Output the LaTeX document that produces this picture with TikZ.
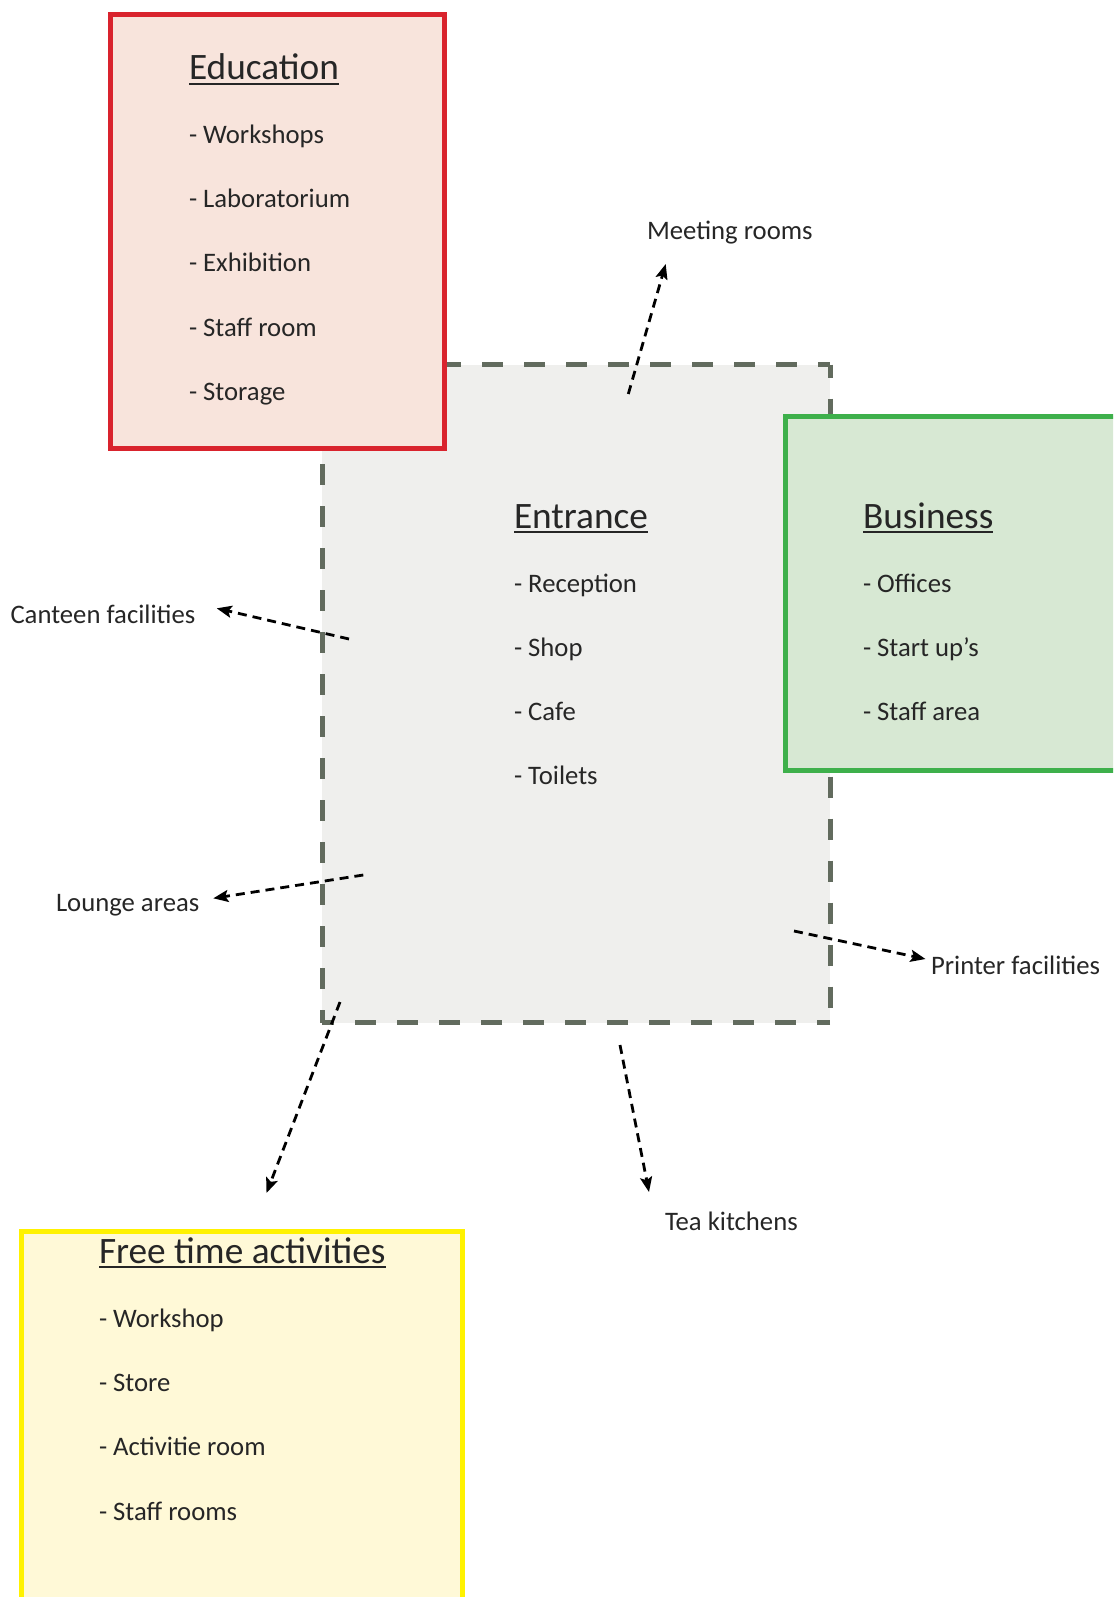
\documentclass[tikz,border=0pt]{standalone}
\usepackage{fontspec}
\setmainfont{Carlito}
\usetikzlibrary{arrows.meta}
\definecolor{edstroke}{RGB}{217,35,45}
\definecolor{edfill}{RGB}{248,228,220}
\definecolor{bustroke}{RGB}{62,176,75}
\definecolor{bufill}{RGB}{215,232,211}
\definecolor{frstroke}{RGB}{255,242,0}
\definecolor{frfill}{RGB}{255,249,215}
\definecolor{entfill}{RGB}{239,239,237}
\definecolor{entstroke}{RGB}{98,107,94}
\definecolor{txtc}{RGB}{38,38,38}
\tikzset{
  areabox/.style={anchor=north west, inner sep=0pt, outer sep=0pt, line width=5pt},
  item/.style={anchor=base west, inner sep=0pt, outer sep=0pt, text=txtc, font=\fontsize{26.7}{32}\selectfont},
  ttl/.style={anchor=base west, inner sep=0pt, outer sep=0pt, text=txtc, font=\fontsize{37.3}{45}\selectfont},
  uline/.style={draw=txtc, line width=2pt},
  entdash/.style={draw=entstroke, line width=5pt, dash pattern=on 21pt off 21pt, dash phase=8pt},
  flow/.style={draw=black, line width=2.8pt, dash pattern=on 9pt off 6pt, -{Stealth[length=15pt,width=12pt,inset=3pt]}}
}
\begin{document}
\begin{tikzpicture}[x=1pt,y=-1pt]
\useasboundingbox (0,0) rectangle (1113,1597);
\clip (0,0) rectangle (1113,1597);

% Entrance area
\node[areabox, fill=entfill, minimum width=508pt, minimum height=658pt] (ent) at (322,364.5) {};
\draw[entdash] (ent.north west) -- (ent.north east);
\draw[entdash] (ent.north east) -- (ent.south east);
\draw[entdash] (ent.south east) -- (ent.south west);
\draw[entdash] (ent.south west) -- (ent.north west);

% Education
\node[areabox, draw=edstroke, fill=edfill, minimum width=333.5pt, minimum height=433.5pt] (edu) at (110.5,14.5) {};
% Business
\node[areabox, draw=bustroke, fill=bufill, minimum width=360pt, minimum height=354pt] (bus) at (785.5,416) {};
% Free time
\node[areabox, draw=frstroke, fill=frfill, minimum width=440.5pt, minimum height=400pt] (fre) at (21.5,1231) {};

% Education texts
\node[ttl] (eduT) at (189,80) {Education};
\draw[uline] ([yshift=-4pt]eduT.base west) -- ([yshift=-4pt]eduT.base east);
\node[item] (edu1) at (189,144) {- Workshops};
\node[item] (edu2) at (189,208) {- Laboratorium};
\node[item] (edu3) at (189,272) {- Exhibition};
\node[item] (edu4) at (189,336) {- Staff room};
\node[item] (edu5) at (189,400) {- Storage};

% Entrance texts
\node[ttl] (entT) at (514,528) {Entrance};
\draw[uline] ([yshift=-4pt]entT.base west) -- ([yshift=-4pt]entT.base east);
\node[item] (ent1) at (514,592) {- Reception};
\node[item] (ent2) at (514,656) {- Shop};
\node[item] (ent3) at (514,720) {- Cafe};
\node[item] (ent4) at (514,784) {- Toilets};

% Business texts
\node[ttl] (busT) at (863,528) {Business};
\draw[uline] ([yshift=-4pt]busT.base west) -- ([yshift=-4pt]busT.base east);
\node[item] (bus1) at (863,592) {- Offices};
\node[item] (bus2) at (863,656) {- Start up’s};
\node[item] (bus3) at (863,720) {- Staff area};

% Free time texts
\node[ttl] (freT) at (99,1263) {Free time activities};
\draw[uline] ([yshift=-4pt]freT.base west) -- ([yshift=-4pt]freT.base east);
\node[item] (fre1) at (99,1327) {- Workshop};
\node[item] (fre2) at (99,1391) {- Store};
\node[item] (fre3) at (99,1455) {- Activitie room};
\node[item] (fre4) at (99,1520) {- Staff rooms};

% Outer labels
\node[item] (meet) at (647,240) {Meeting rooms};
\node[item] (cant) at (10.5,623) {Canteen facilities};
\node[item] (loun) at (56,911.5) {Lounge areas};
\node[item] (prin) at (931,974) {Printer facilities};
\node[item] (tea) at (665,1230) {Tea kitchens};

% Arrow end points
\coordinate (meetS) at (628.3,394);
\coordinate (meetE) at (665.7,264);
\coordinate (cantS) at (349,639);
\coordinate (cantE) at (216.7,608.3);
\coordinate (lounS) at (363.3,875);
\coordinate (lounE) at (213.3,898.3);
\coordinate (prinS) at (794,931);
\coordinate (prinE) at (925.5,959);
\coordinate (teaS) at (620,1045);
\coordinate (teaE) at (649,1192);
\coordinate (freS) at (340,1002);
\coordinate (freE) at (266.5,1193);

\draw[flow] (meetS) -- (meetE);
\draw[flow] (cantS) -- (cantE);
\draw[flow] (lounS) -- (lounE);
\draw[flow] (prinS) -- (prinE);
\draw[flow] (teaS) -- (teaE);
\draw[flow] (freS) -- (freE);
\end{tikzpicture}
\end{document}
